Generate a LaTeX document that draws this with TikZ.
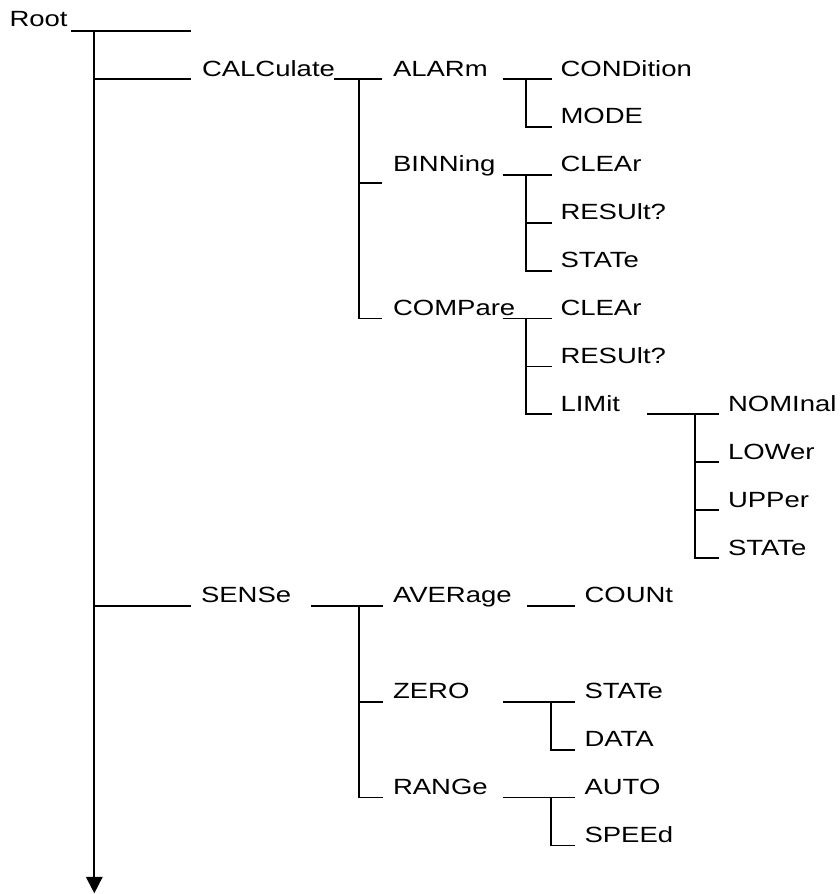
\documentclass[tikz,border=0pt]{standalone}
\usepackage{fontspec}
\setmainfont{Liberation Sans}
\usetikzlibrary{arrows.meta}
% command names are set slightly wide
\newcommand\cmdtxt[1]{\scalebox{1.25}[1]{#1}}
\begin{document}
\begin{tikzpicture}[x=1pt,y=-1pt,
  wire/.style={line width=1.8pt, black},
  cmd/.style={anchor=base west, inner sep=0pt, outer sep=0pt,
              font=\fontsize{22}{26}\selectfont},
  tip/.style={-{Triangle[length=16.5pt,width=16.5pt]}},
]
\useasboundingbox (0,0) rectangle (840,894);

% ---------- command keywords ----------
\node[cmd] (root)   at (9.5,26.7)  {\cmdtxt{Root}};
\node[cmd] (calc)   at (202,76)    {\cmdtxt{CALCulate}};
\node[cmd] (alarm)  at (393,76)    {\cmdtxt{ALARm}};
\node[cmd] (cond)   at (560.5,76)  {\cmdtxt{CONDition}};
\node[cmd] (mode)   at (560.5,123.9) {\cmdtxt{MODE}};
\node[cmd] (bin)    at (393,171.8) {\cmdtxt{BINNing}};
\node[cmd] (bclr)   at (560.5,171.8) {\cmdtxt{CLEAr}};
\node[cmd] (bres)   at (560.5,219.7) {\cmdtxt{RESUlt?}};
\node[cmd] (bstat)  at (560.5,267.6) {\cmdtxt{STATe}};
\node[cmd] (comp)   at (393,315.5) {\cmdtxt{COMPare}};
\node[cmd] (cclr)   at (560.5,315.5) {\cmdtxt{CLEAr}};
\node[cmd] (cres)   at (560.5,363.4) {\cmdtxt{RESUlt?}};
\node[cmd] (lim)    at (560.5,411.3) {\cmdtxt{LIMit}};
\node[cmd] (nom)    at (728,411.3) {\cmdtxt{NOMInal}};
\node[cmd] (low)    at (728,459.2) {\cmdtxt{LOWer}};
\node[cmd] (upp)    at (728,507.1) {\cmdtxt{UPPer}};
\node[cmd] (lstat)  at (728,555)   {\cmdtxt{STATe}};
\node[cmd] (sens)   at (201,602.9) {\cmdtxt{SENSe}};
\node[cmd] (aver)   at (393,602.9) {\cmdtxt{AVERage}};
\node[cmd] (count)  at (584.5,602.9) {\cmdtxt{COUNt}};
\node[cmd] (zero)   at (393,698.7) {\cmdtxt{ZERO}};
\node[cmd] (zstat)  at (584.5,698.7) {\cmdtxt{STATe}};
\node[cmd] (zdata)  at (584.5,746.6) {\cmdtxt{DATA}};
\node[cmd] (range)  at (393,794.5) {\cmdtxt{RANGe}};
\node[cmd] (auto)   at (584.5,794.5) {\cmdtxt{AUTO}};
\node[cmd] (speed)  at (584.5,842.4) {\cmdtxt{SPEEd}};

% ---------- junction points ----------
\coordinate (rootL)  at (71,30.7);
\coordinate (mainT)  at (94.3,30.7);
\coordinate (mainB)  at (94.3,893.3);
\coordinate (calcJ)  at (359,79);
\coordinate (alarmJ) at (526,79);
\coordinate (binJ)   at (526,174.8);
\coordinate (compJ)  at (526,318.5);
\coordinate (limJ)   at (695,414.3);
\coordinate (sensJ)  at (359,605.9);
\coordinate (zeroJ)  at (550.7,701.7);
\coordinate (rangeJ) at (550.7,797.5);

% ---------- root level ----------
\draw[wire] (rootL) -- (191,30.7);
\draw[wire,tip] (mainT) -- (mainB);
\draw[wire] (mainT |- 0,79) -- (191,79);
\draw[wire] (mainT |- 0,605.9) -- (191,605.9);

% ---------- CALCulate subtree ----------
\draw[wire] (334,79) -- (382,79);
\draw[wire] (calcJ) |- (382,318.5);
\draw[wire] (calcJ |- 0,182.7) -- (382,182.7);

\draw[wire] (502.7,79) -- (551.7,79);
\draw[wire] (alarmJ) |- (551.7,126.9);

\draw[wire] (502.7,174.8) -- (551.7,174.8);
\draw[wire] (binJ) |- (551.7,270.6);
\draw[wire] (binJ |- 0,222.7) -- (551.7,222.7);

\draw[wire] (502.7,318.5) -- (551.7,318.5);
\draw[wire] (compJ) |- (551.7,414.3);
\draw[wire] (compJ |- 0,366.4) -- (551.7,366.4);

\draw[wire] (646.7,414.3) -- (719,414.3);
\draw[wire] (limJ) |- (719,558);
\draw[wire] (limJ |- 0,462.2) -- (719,462.2);
\draw[wire] (limJ |- 0,510.1) -- (719,510.1);

% ---------- SENSe subtree ----------
\draw[wire] (310.7,605.9) -- (383.3,605.9);
\draw[wire] (sensJ) |- (383.3,797.5);
\draw[wire] (sensJ |- 0,701.7) -- (383.3,701.7);

\draw[wire] (526.7,605.9) -- (575,605.9);

\draw[wire] (502.7,701.7) -- (575,701.7);
\draw[wire] (zeroJ) |- (575,749.6);

\draw[wire] (502.7,797.5) -- (575,797.5);
\draw[wire] (rangeJ) |- (575,845.4);
\end{tikzpicture}
\end{document}
